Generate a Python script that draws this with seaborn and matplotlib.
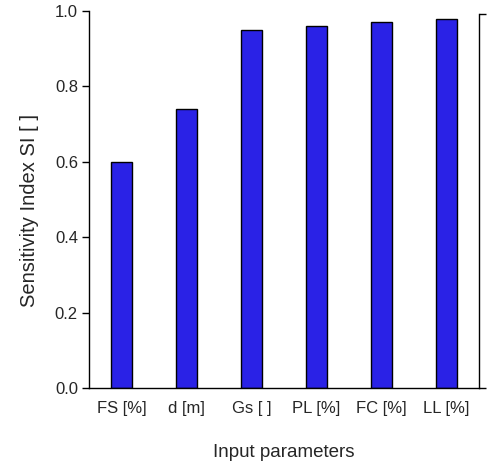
import pandas as pd
import seaborn as sns
import matplotlib.pyplot as plt

# Sensitivity index per input parameter
params = ['FS [%]', 'd [m]', 'Gs [ ]', 'PL [%]', 'FC [%]', 'LL [%]']
si_values = [0.60, 0.74, 0.95, 0.96, 0.97, 0.98]

df = pd.DataFrame({'Parameter': params, 'SI': si_values})

sns.set_style('white')
plt.rcParams['font.family'] = ['Liberation Sans', 'DejaVu Sans']

fig = plt.figure(figsize=(4.89, 4.66), dpi=100)
ax = fig.add_axes([0.182, 0.1674, 0.7976, 0.809])

sns.barplot(x='Parameter', y='SI', data=df, color='#2a22e6', saturation=1,
            width=0.31, edgecolor='black', linewidth=1, ax=ax)

ax.set_xlim(-0.5, 5.5)
ax.set_ylim(0, 1.0)
ax.set_yticks([0.0, 0.2, 0.4, 0.6, 0.8, 1.0])
ax.set_yticklabels(['0.0', '0.2', '0.4', '0.6', '0.8', '1.0'])
ax.tick_params(axis='y', direction='out', length=5, width=1, left=True,
               labelsize=12, color='black', pad=3)
ax.tick_params(axis='x', bottom=False, labelsize=12, pad=6)

ax.set_xlabel('Input parameters', fontsize=13.5, labelpad=20)
ax.set_ylabel('Sensitivity Index SI [ ]', fontsize=14.5, va='center')
ax.yaxis.set_label_coords(-0.152, 0.472)

for side in ['left', 'bottom', 'right']:
    ax.spines[side].set_visible(True)
    ax.spines[side].set_color('black')
    ax.spines[side].set_linewidth(1)
ax.spines['top'].set_visible(False)
ax.spines['right'].set_bounds(0, 0.992)

# right axis with only end ticks, no labels
ax2 = ax.twinx()
ax2.set_ylim(0, 1.0)
ax2.set_yticks([0.0, 0.992])
ax2.set_yticklabels([])
ax2.tick_params(axis='y', direction='out', length=5, width=1, right=True, color='black')
for side in ax2.spines:
    ax2.spines[side].set_visible(False)
ax2.grid(False)

fig.savefig('out.png', dpi=100)
